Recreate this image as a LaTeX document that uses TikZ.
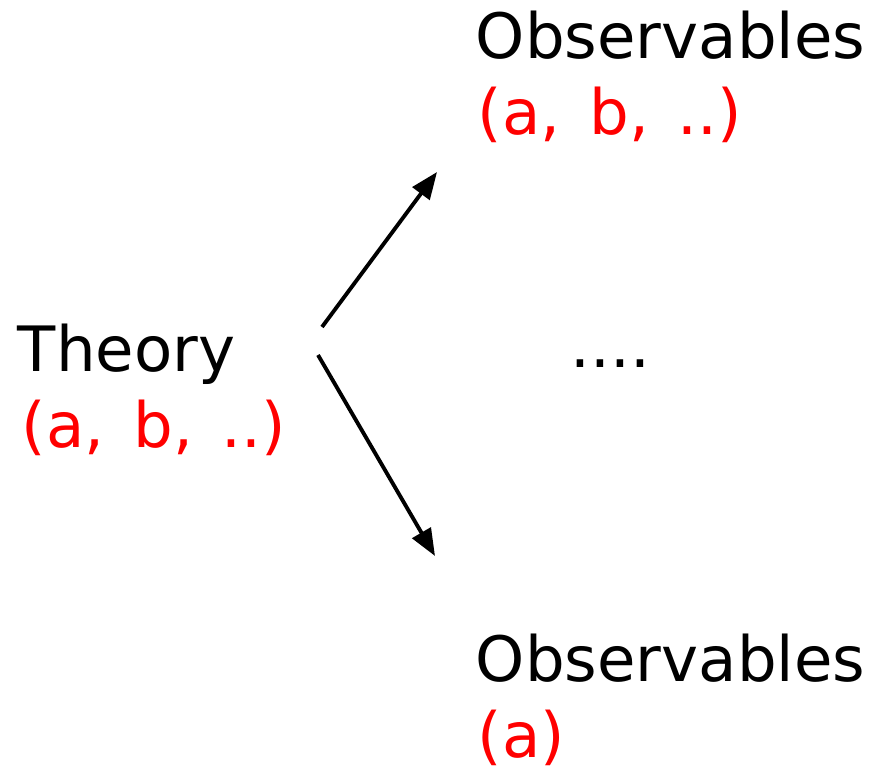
\documentclass[tikz,border=0pt]{standalone}
\usepackage{fontspec}
\setmainfont{DejaVu Sans}
\newfontfamily\paramfont[WordSpace=1.45]{DejaVu Sans}
\usepackage{tikz}
\usetikzlibrary{
    positioning,
    arrows.meta
}
\tikzset{
    >={Triangle[length=0.27cm,width=0.21cm]},
    word/.style={
        anchor=base west,
        inner sep=0pt,
        font=\fontsize{17.8pt}{21.6pt}\selectfont
    },
    params/.style={
        word,
        font=\fontsize{17.8pt}{21.6pt}\paramfont,
        text=red
    }
}

\begin{document}
\begin{tikzpicture}[
    line width=1.1pt
]
    \useasboundingbox (0,0) rectangle (8.72,7.74);

    % Textos
    \node[word]   (theory)     at (0.16,4.02) {Theory};
    \node[params] (theory ab)  at (0.20,3.26) {(a, b, ..)};
    \node[word]   (obs top)    at (4.74,7.15) {Observables};
    \node[params] (obs top ab) at (4.76,6.39) {(a, b, ..)};
    \node[word]   (dots)       at (5.69,4.06) {....};
    \node[word]   (obs bot)    at (4.74,0.92) {Observables};
    \node[params] (obs bot a)  at (4.76,0.16) {(a)};

    % Flechas
    \coordinate (up start)   at (3.22,4.47);
    \coordinate (up end)     at (4.37,6.02);
    \coordinate (down start) at (3.18,4.19);
    \coordinate (down end)   at (4.35,2.18);

    \draw[->] (up start)   -- (up end);
    \draw[->] (down start) -- (down end);

\end{tikzpicture}
\end{document}
